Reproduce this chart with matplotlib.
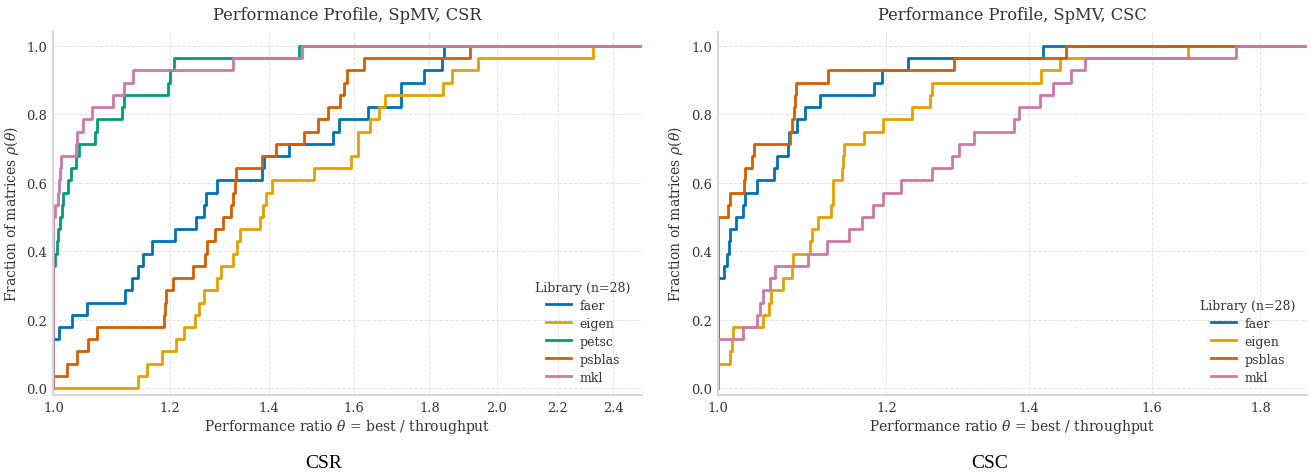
import numpy as np
import matplotlib
matplotlib.use("Agg")
import matplotlib.pyplot as plt
from matplotlib.ticker import FixedLocator, FormatStrFormatter, NullLocator

# performance ratios (best / throughput), one per matrix, n = 28
n_matrices = 28

csr_libraries = ["faer", "eigen", "petsc", "psblas", "mkl"]
csr_faer = [1.0, 1.0, 1.0, 1.0, 1.009, 1.029, 1.054, 1.119, 1.130, 1.142, 1.151, 1.166, 1.209, 1.250,
            1.266, 1.270, 1.291, 1.385, 1.390, 1.446, 1.547, 1.562, 1.634, 1.722, 1.722, 1.785, 1.835, 1.842]
csr_eigen = [1.141, 1.157, 1.184, 1.211, 1.227, 1.247, 1.256, 1.266, 1.291, 1.300, 1.325, 1.332, 1.339, 1.381,
             1.388, 1.394, 1.407, 1.502, 1.593, 1.611, 1.611, 1.641, 1.664, 1.680, 1.838, 1.865, 1.942, 2.323]
csr_petsc = [1.0] * 10 + [1.0026, 1.0052, 1.0078, 1.0105, 1.013, 1.0147, 1.0237, 1.028, 1.036, 1.040,
                          1.067, 1.071, 1.113, 1.117, 1.197, 1.200, 1.208, 1.469]
csr_psblas = [1.0, 1.021, 1.037, 1.056, 1.070, 1.188, 1.190, 1.192, 1.206, 1.243, 1.268, 1.272, 1.287, 1.303,
              1.319, 1.325, 1.328, 1.330, 1.385, 1.416, 1.480, 1.513, 1.537, 1.564, 1.576, 1.582, 1.625, 1.917]
csr_mkl = [1.0] * 14 + [1.0026, 1.0063, 1.0094, 1.011, 1.0126, 1.036, 1.038, 1.048, 1.062, 1.098,
                        1.117, 1.133, 1.325, 1.474]

csc_libraries = ["faer", "eigen", "psblas", "mkl"]
csc_faer = [1.0] * 9 + [1.0065, 1.0098, 1.0113, 1.0127, 1.0193, 1.0267, 1.0293, 1.0424, 1.0626, 1.0660,
                        1.0781, 1.0796, 1.0886, 1.0991, 1.1164, 1.1842, 1.1937, 1.2286, 1.4221]
csc_eigen = [1.0, 1.0, 1.0127, 1.0145, 1.0157, 1.0500, 1.0568, 1.0587, 1.0722, 1.0827, 1.0839, 1.1044, 1.1064,
             1.1145, 1.1294, 1.1319, 1.1327, 1.1430, 1.1450, 1.1463, 1.1713, 1.1949, 1.2343, 1.2577, 1.2614,
             1.4196, 1.4479, 1.6641]
csc_psblas = [1.0] * 14 + [1.0109, 1.0127, 1.0286, 1.0297, 1.0368, 1.0394, 1.0808, 1.0834, 1.0853, 1.0869,
                           1.0884, 1.1265, 1.2909, 1.4576]
csc_mkl = [1.0] * 4 + [1.0275, 1.0424, 1.0462, 1.0493, 1.0576, 1.0633, 1.1024, 1.1245, 1.1522, 1.1688, 1.1820,
                       1.1959, 1.2186, 1.2614, 1.2877, 1.2986, 1.3192, 1.3784, 1.3857, 1.4168, 1.4373, 1.4664,
                       1.4878, 1.7524]

csr_ticks = [1.0, 1.2, 1.4, 1.6, 1.8, 2.0, 2.2, 2.4]
csc_ticks = [1.0, 1.2, 1.4, 1.6, 1.8]

colors = {"faer": "#0072b2", "eigen": "#e69f00", "petsc": "#009e73", "psblas": "#d55e00", "mkl": "#cc79a7"}

plt.rcParams["font.family"] = "DejaVu Serif"
plt.rcParams["mathtext.fontset"] = "dejavuserif"

fig = plt.figure(figsize=(13.11, 4.77), dpi=100)
ax_csr = fig.add_axes([0.0408, 0.170, 0.4487, 0.760])
ax_csc = fig.add_axes([0.5479, 0.170, 0.4488, 0.760])


def profile(ax, names, data, ticks, fmt):
    xmax = max(max(d) for d in data) * 1.08
    for name, ratios in zip(names, data):
        r = np.sort(np.asarray(ratios))
        x = np.concatenate([[1.0], r, [xmax]])
        y = np.concatenate([[0.0], np.arange(1, len(r) + 1) / n_matrices, [1.0]])
        ax.step(x, y, where="post", color=colors[name], lw=2, label=name)
    ax.set_xscale("log")
    ax.set_xlim(1.0, xmax)
    ax.set_ylim(-0.02, 1.04)
    ax.xaxis.set_major_locator(FixedLocator(ticks))
    ax.xaxis.set_major_formatter(FormatStrFormatter("%.1f"))
    ax.xaxis.set_minor_locator(NullLocator())
    ax.set_yticks([0.0, 0.2, 0.4, 0.6, 0.8, 1.0])
    ax.yaxis.set_major_formatter(FormatStrFormatter("%.1f"))
    ax.grid(True, ls="--", lw=0.7, color="#e4e4e4")
    ax.set_axisbelow(True)
    for side in ["top", "right"]:
        ax.spines[side].set_visible(False)
    for side in ["left", "bottom"]:
        ax.spines[side].set_color("#d6d6d6")
        ax.spines[side].set_linewidth(1.5)
    ax.tick_params(length=0, labelsize=9.4, colors="#333333", pad=4.5)
    ax.set_xlabel(r"Performance ratio $\theta$ = best / throughput", fontsize=10, color="#333333", labelpad=2)
    ax.set_ylabel(r"Fraction of matrices $\rho(\theta)$", fontsize=10, color="#333333")
    ax.set_title("Performance Profile, SpMV, " + fmt, fontsize=11.7, color="#333333", pad=10)
    leg = ax.legend(title="Library (n=28)", loc="lower right", frameon=False, fontsize=9,
                    title_fontsize=9, borderaxespad=0.5, handlelength=2.0, handletextpad=0.7,
                    labelspacing=0.4)
    for t in leg.get_texts():
        t.set_color("#333333")
    leg.get_title().set_color("#333333")


profile(ax_csr, csr_libraries, [csr_faer, csr_eigen, csr_petsc, csr_psblas, csr_mkl], csr_ticks, "CSR")
profile(ax_csc, csc_libraries, [csc_faer, csc_eigen, csc_psblas, csc_mkl], csc_ticks, "CSC")

fig.text(0.2471, 0.029, "CSR", ha="center", va="center", fontsize=14, family="Liberation Serif")
fig.text(0.7552, 0.029, "CSC", ha="center", va="center", fontsize=14, family="Liberation Serif")

fig.savefig("out.png", dpi=100)
